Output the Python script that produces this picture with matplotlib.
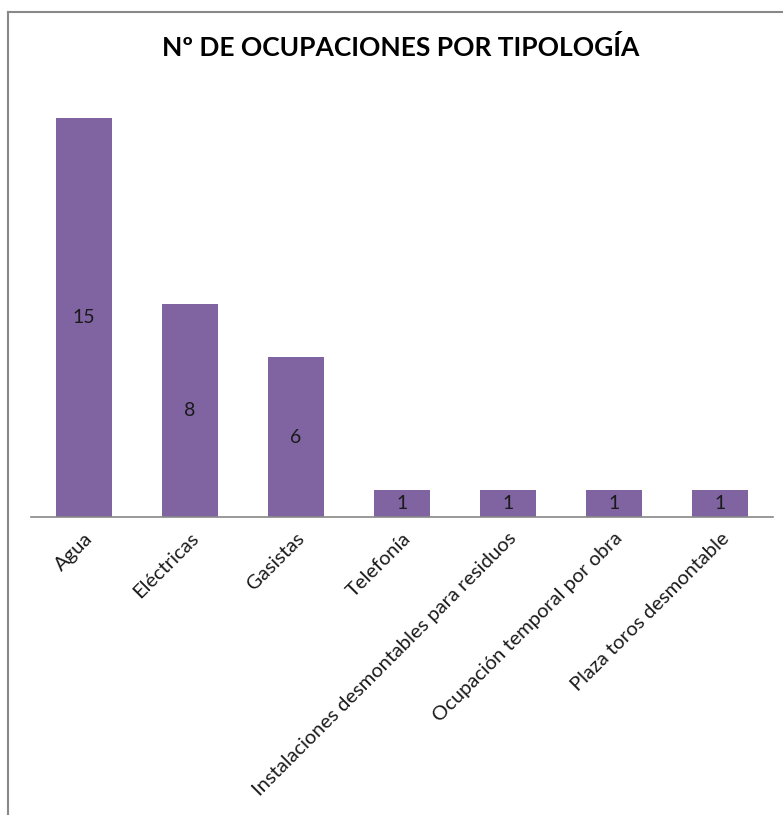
import matplotlib
matplotlib.use('Agg')
import matplotlib.pyplot as plt
from matplotlib.lines import Line2D

CATEGORIES = [
    'Agua',
    'Eléctricas',
    'Gasistas',
    'Telefonía',
    'Instalaciones desmontables para residuos',
    'Ocupación temporal por obra',
    'Plaza toros desmontable',
]
COUNTS = [15, 8, 6, 1, 1, 1, 1]
TITLE = 'Nº DE OCUPACIONES POR TIPOLOGÍA'

BAR_COLOR = '#8064A2'
AXIS_COLOR = '#888888'
FONT = ['Lato', 'DejaVu Sans']

W, H = 783, 815
fig = plt.figure(figsize=(W / 100, H / 100), dpi=100)
plt.rcParams['font.family'] = FONT

ax = fig.add_axes([31 / W, 1 - 517 / H, (773 - 31) / W, (517 - 91.4) / H])
x = list(range(len(CATEGORIES)))
bars = ax.bar(x, COUNTS, width=0.52, color=BAR_COLOR, zorder=2)
ax.set_xlim(-0.5, len(CATEGORIES) - 0.5)
ax.set_ylim(0, 16)

for b, v in zip(bars, COUNTS):
    ax.text(b.get_x() + b.get_width() / 2, v / 2, str(v),
            ha='center', va='center', fontsize=14, color='#1a1a1a')

for side in ['top', 'right', 'left']:
    ax.spines[side].set_visible(False)
ax.spines['bottom'].set_color(AXIS_COLOR)
ax.spines['bottom'].set_linewidth(1.2)
ax.set_yticks([])
ax.set_xticks(x)
ax.set_xticklabels(CATEGORIES, rotation=45, ha='right', rotation_mode='anchor',
                   fontsize=14.5, color='#1a1a1a')
ax.tick_params(axis='x', length=0, pad=9)

fig.text(401 / W, 1 - 47 / H, TITLE, ha='center', va='center',
         fontsize=19, fontweight='bold', color='black')

# chart border (only top and left edges visible in the crop)
fig.add_artist(Line2D([8 / W, 1], [1 - 12 / H, 1 - 12 / H], color=AXIS_COLOR, lw=1.5))
fig.add_artist(Line2D([8 / W, 8 / W], [0, 1 - 12 / H], color=AXIS_COLOR, lw=1.5))

fig.savefig('out.png', dpi=100)
